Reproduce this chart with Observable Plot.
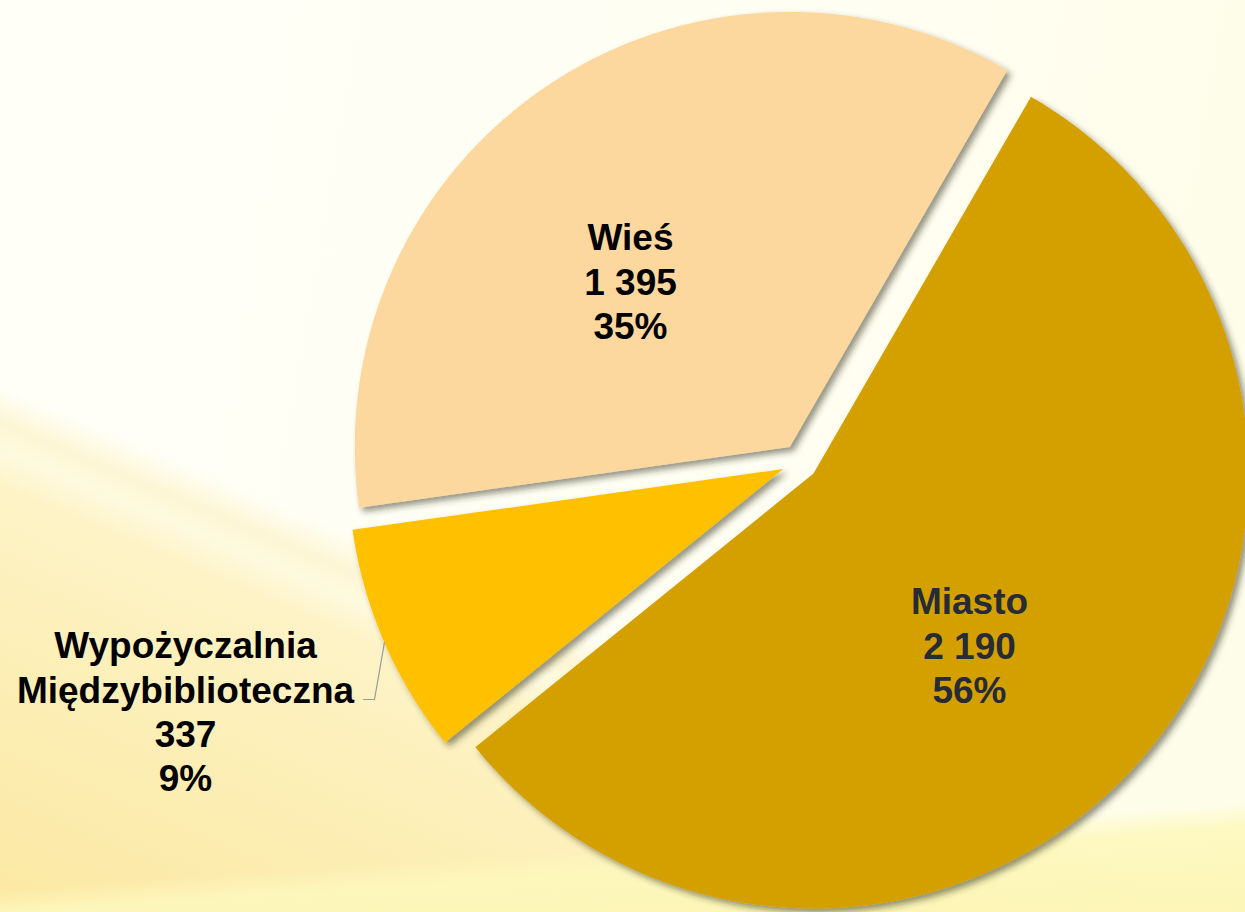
<!DOCTYPE html>
<html>
<head>
<meta charset="utf-8">
<script src="https://cdn.jsdelivr.net/npm/d3@7"></script>
<script src="https://cdn.jsdelivr.net/npm/@observablehq/plot@0.6"></script>
<style>
  html, body { margin: 0; padding: 0; }
  #chart {
    width: 1245px; height: 912px; position: relative; overflow: hidden;
    background:
      linear-gradient(176deg, rgba(253,248,190,0) 0%, rgba(253,248,190,0) 89%, rgba(253,248,189,0.9) 91.5%, rgba(252,245,178,0.9) 100%),
      linear-gradient(203deg, rgba(255,255,246,0) 0%, rgba(255,255,246,0) 63.5%, #fdf6d4 66%, #fefadf 67.8%, #fdf3c6 70.5%, #fceeb4 84%, #fbe8a3 100%),
      linear-gradient(100deg, #fffff8 0%, #fffef2 60%, #fefde8 100%);
  }
  #chart svg { position: absolute; left: 0; top: 0; }
</style>
</head>
<body>
<div id="chart"></div>
<script>
// ---- data ----
const categories = ["Miasto", "Wypożyczalnia Międzybiblioteczna", "Wieś"];
const categoryLines = [["Miasto"], ["Wypożyczalnia", "Międzybiblioteczna"], ["Wieś"]];
const values = [2190, 337, 1395];
const valueLabels = ["2 190", "337", "1 395"];
const percentLabels = ["56%", "9%", "35%"];
const sliceColors = ["#d4a000", "#ffc000", "#fdd89e"];

// ---- layout (pixels) ----
const W = 1245, H = 912;
const cx = 799.3, cy = 461.3, R = 435, explodePx = 18, startDeg = 30;
const labelPx = [[969, 644], [185, 710], [630, 280]];
const labelColors = ["#262b36", "#000000", "#000000"];
const leaderPx = [[363, 699], [374, 699]]; // then to the slice's outer arc

const toUx = px => (px - cx) / R, toUy = py => (py - cy) / R;

const arcs = d3.pie().sort(null)
  .startAngle(startDeg * Math.PI / 180)
  .endAngle(startDeg * Math.PI / 180 + 2 * Math.PI)(values);

const slicePts = [];
const sliceGeom = arcs.map((a, i) => {
  const mid = (a.startAngle + a.endAngle) / 2;
  const e = explodePx / R;
  const ox = e * Math.sin(mid), oy = -e * Math.cos(mid);
  slicePts.push({name: categories[i], x: ox, y: oy});
  const n = 240;
  for (let k = 0; k <= n; k++) {
    const t = a.startAngle + (a.endAngle - a.startAngle) * k / n;
    slicePts.push({name: categories[i], x: ox + Math.sin(t), y: oy - Math.cos(t)});
  }
  return {mid, ox, oy};
});

const leaderPts = [
  ...leaderPx.map(([px, py]) => ({x: toUx(px), y: toUy(py)})),
  {x: sliceGeom[1].ox + Math.sin(sliceGeom[1].mid), y: sliceGeom[1].oy - Math.cos(sliceGeom[1].mid)}
];

const labels = categories.map((c, i) => ({
  name: c,
  x: toUx(labelPx[i][0]), y: toUy(labelPx[i][1]),
  text: [...categoryLines[i], valueLabels[i], percentLabels[i]].join("\n"),
  color: labelColors[i]
}));

const textOpts = {
  x: "x", y: "y", text: "text",
  fontSize: 37, fontWeight: "bold",
  fontFamily: "'Liberation Sans', Arial, Helvetica, sans-serif",
  lineHeight: 1.2, lineAnchor: "middle", textAnchor: "middle"
};

const plot = Plot.plot({
  width: W, height: H,
  marginTop: 0, marginRight: 0, marginBottom: 0, marginLeft: 0,
  x: {domain: [toUx(0), toUx(W)], range: [0, W], axis: null},
  y: {domain: [toUy(0), toUy(H)], range: [0, H], axis: null},
  color: {domain: categories, range: sliceColors},
  style: {background: "transparent", overflow: "visible"},
  marks: [
    Plot.line(slicePts, {x: "x", y: "y", z: "name", fill: "name", stroke: "none", curve: "linear-closed"}),
    Plot.line(leaderPts, {x: "x", y: "y", stroke: "#9a9a9a", strokeWidth: 1.2}),
    Plot.text(labels.filter(d => d.color !== "#000000"), {...textOpts, fill: "#262b36"}),
    Plot.text(labels.filter(d => d.color === "#000000"), {...textOpts, fill: "#000000"})
  ]
});

// drop shadow on slices
const svg = d3.select(plot);
const defs = svg.insert("defs", ":first-child");
defs.append("filter").attr("id", "sliceShadow")
  .attr("x", "-10%").attr("y", "-10%").attr("width", "130%").attr("height", "130%")
  .append("feDropShadow")
  .attr("dx", 4).attr("dy", 4).attr("stdDeviation", 3)
  .attr("flood-color", "#2a2a10").attr("flood-opacity", 0.5);
svg.select("g[aria-label='line']").selectAll("path").attr("filter", "url(#sliceShadow)");

document.getElementById("chart").appendChild(plot);
</script>
</body>
</html>
